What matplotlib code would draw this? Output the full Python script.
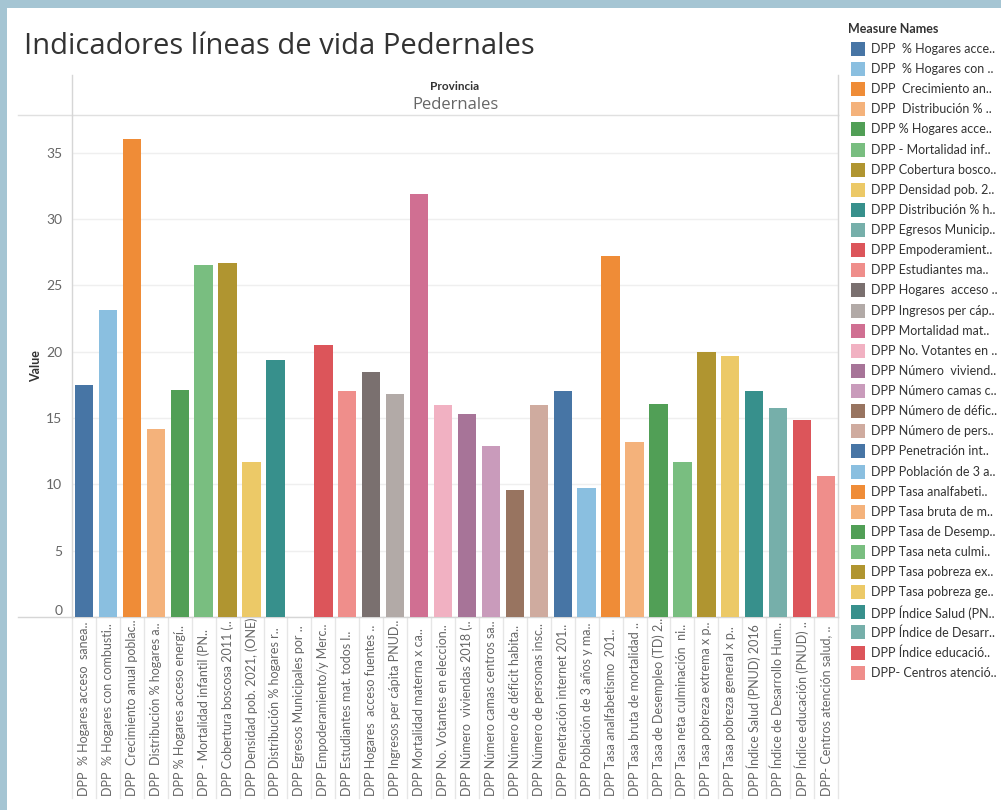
import matplotlib
matplotlib.use("Agg")
import matplotlib.pyplot as plt
from matplotlib.patches import Rectangle
from matplotlib.lines import Line2D
from matplotlib.transforms import blended_transform_factory

plt.rcParams['font.family'] = ['Lato', 'DejaVu Sans']

# Data
tick_labels = [
    "DPP  % Hogares acceso  sanea..",
    "DPP  % Hogares con combusti..",
    "DPP  Crecimiento anual poblac..",
    "DPP  Distribución % hogares a..",
    "DPP % Hogares acceso energí..",
    "DPP - Mortalidad infantil (PN..",
    "DPP Cobertura boscosa 2011 (..",
    "DPP Densidad pob. 2021, (ONE)",
    "DPP Distribución % hogares r..",
    "DPP Egresos Municipales por ..",
    "DPP Empoderamiento/y Merc..",
    "DPP Estudiantes mat. todos l..",
    "DPP Hogares  acceso fuentes ..",
    "DPP Ingresos per cápita PNUD..",
    "DPP Mortalidad materna x ca..",
    "DPP No. Votantes en eleccion..",
    "DPP Número  viviendas 2018 (..",
    "DPP Número camas centros sa..",
    "DPP Número de déficit habita..",
    "DPP Número de personas insc..",
    "DPP Penetración internet 201..",
    "DPP Población de 3 años y ma..",
    "DPP Tasa analfabetismo  201..",
    "DPP Tasa bruta de mortalidad ..",
    "DPP Tasa de Desempleo (TD) 2..",
    "DPP Tasa neta culminación  ni..",
    "DPP Tasa pobreza extrema x p..",
    "DPP Tasa pobreza general x p..",
    "DPP Índice Salud (PNUD) 2016",
    "DPP Índice de Desarrollo Hum..",
    "DPP Índice educación (PNUD) ..",
    "DPP- Centros atención salud, ..",
]

legend_labels = [
    "DPP  % Hogares acce..", "DPP  % Hogares con ..", "DPP  Crecimiento an..",
    "DPP  Distribución % ..", "DPP % Hogares acce..", "DPP - Mortalidad inf..",
    "DPP Cobertura bosco..", "DPP Densidad pob. 2..", "DPP Distribución % h..",
    "DPP Egresos Municip..", "DPP Empoderamient..", "DPP Estudiantes ma..",
    "DPP Hogares  acceso ..", "DPP Ingresos per cáp..", "DPP Mortalidad mat..",
    "DPP No. Votantes en ..", "DPP Número  viviend..", "DPP Número camas c..",
    "DPP Número de défic..", "DPP Número de pers..", "DPP Penetración int..",
    "DPP Población de 3 a..", "DPP Tasa analfabeti..", "DPP Tasa bruta de m..",
    "DPP Tasa de Desemp..", "DPP Tasa neta culmi..", "DPP Tasa pobreza ex..",
    "DPP Tasa pobreza ge..", "DPP Índice Salud (PN..", "DPP Índice de Desarr..",
    "DPP Índice educació..", "DPP- Centros atenció..",
]

values = [17.5, 23.1, 36.0, 14.2, 17.1, 26.5, 26.7, 11.7, 19.4, 0.0,
          20.5, 17.0, 18.5, 16.8, 31.9, 15.95, 15.3, 12.85, 9.6, 15.95,
          17.0, 9.75, 27.2, 13.2, 16.05, 11.65, 20.0, 19.7, 17.03, 15.75,
          14.85, 10.6]

palette = ['#4775A5', '#8ABFE0', '#EF8C37', '#F4B27B', '#519F56', '#79BE80',
           '#B09530', '#ECC967', '#37908C', '#76AFAA', '#DC555A', '#EF8E8B',
           '#7A706F', '#B2AAA7', '#D06F92', '#F1B1C2', '#A77498', '#C99BBB',
           '#987460', '#CFAB9F']
colors = [palette[i % len(palette)] for i in range(len(values))]

W, H = 1001, 810
fig = plt.figure(figsize=(W / 100, H / 100), dpi=100)

def fx(x):
    return x / W

def fy(y):
    return 1 - y / H

# frame band
fig.add_artist(Rectangle((0, fy(8)), 1, 8 / H, transform=fig.transFigure,
                         color='#A5C5D3', lw=0))
fig.add_artist(Rectangle((0, 0), fx(7), 1, transform=fig.transFigure,
                         color='#A5C5D3', lw=0))

fig.text(fx(24), fy(46), "Indicadores líneas de vida Pedernales", fontsize=21,
         color='#333333', va='center', ha='left', family=['Open Sans', 'DejaVu Sans'])

# axes
ax_left, ax_right, ax_top, ax_bot = 72, 838, 115, 617
ax = fig.add_axes([fx(ax_left), fy(ax_bot), fx(ax_right - ax_left), (ax_bot - ax_top) / H])
x = list(range(len(values)))
ax.bar(x, values, width=0.77, color=colors, zorder=3)
ax.set_xlim(-0.5, len(values) - 0.5)
ax.set_ylim(0, (ax_bot - ax_top) / 13.27)
ax.set_yticks(range(0, 40, 5))
ax.set_yticklabels([str(v) for v in range(0, 40, 5)], fontsize=10, color='#666666')
ax.get_yticklabels()[0].set_verticalalignment('bottom')
ax.tick_params(axis='y', length=0, pad=7)
ax.set_xticks([])
ax.grid(axis='y', color='#EFEFEF', lw=1, zorder=0)
for s in ['top']:
    ax.spines[s].set_visible(False)
for s in ['left', 'right', 'bottom']:
    ax.spines[s].set_color('#D6D6D6')
    ax.spines[s].set_linewidth(1)
ax.set_ylabel("Value", fontsize=9, fontweight='bold', color='#333333', labelpad=3)

# header lines
line_c = '#D6D6D6'
fig.add_artist(Line2D([fx(18), fx(838)], [fy(115), fy(115)], color='#E0E0E0', lw=1))
fig.add_artist(Line2D([fx(72), fx(72)], [fy(75), fy(115)], color=line_c, lw=1))
fig.add_artist(Line2D([fx(838), fx(838)], [fy(75), fy(115)], color=line_c, lw=1))
fig.add_artist(Line2D([fx(18), fx(72)], [fy(617), fy(617)], color=line_c, lw=1))
fig.text(fx(455), fy(86), "Provincia", fontsize=8.5, fontweight='bold',
         color='#333333', ha='center', va='center')
fig.text(fx(455), fy(105), "Pedernales", fontsize=12, color='#666666',
         ha='center', va='center', family=['Open Sans', 'DejaVu Sans'])

# x labels and separators
tr = blended_transform_factory(ax.transData, fig.transFigure)
for i, lab in enumerate(tick_labels):
    ax.text(i, fy(796), lab, transform=tr, rotation=90, ha='center', va='bottom',
            fontsize=9, color='#666666', clip_on=False)
for i in range(len(values) + 1):
    ax.add_artist(Line2D([i - 0.5, i - 0.5], [fy(617), fy(798)], transform=tr,
                         color='#E6E6E6', lw=1, clip_on=False))

# legend
fig.text(fx(848), fy(29), "Measure Names", fontsize=9, fontweight='bold',
         color='#333333', ha='left', va='center')
for i, (lab, c) in enumerate(zip(legend_labels, colors)):
    yc = 49 + i * 20.12
    fig.add_artist(Rectangle((fx(851), fy(yc + 7)), fx(14), 14 / H,
                             transform=fig.transFigure, color=c, lw=0))
    fig.text(fx(871), fy(yc), lab, fontsize=9, color='#333333',
             ha='left', va='center')

fig.savefig("out.png", dpi=100)
